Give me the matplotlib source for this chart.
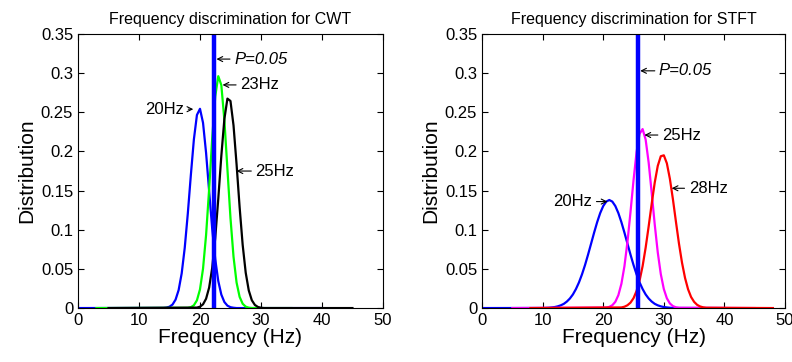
import numpy as np
import matplotlib
matplotlib.use("Agg")
import matplotlib.pyplot as plt
from matplotlib.ticker import FuncFormatter

# --- data ---------------------------------------------------------------
# CWT panel
cwt_20_x = [0.0] + list(np.arange(14.0, 26.25, 0.5)) + [40.0]
cwt_20_y = [0.0,
            0.0002, 0.0006, 0.0017, 0.0045, 0.0108, 0.0230, 0.0443, 0.0769,
            0.1203, 0.1696, 0.2154, 0.2466, 0.2545, 0.2366, 0.1982, 0.1497,
            0.1018, 0.0625, 0.0345, 0.0172, 0.0077, 0.0031, 0.0011, 0.0004,
            0.0,
            0.0]
cwt_23_x = [3.0] + list(np.arange(18.0, 28.75, 0.5)) + [35.0]
cwt_23_y = [0.0,
            0.0003, 0.0011, 0.0036, 0.0099, 0.0238, 0.0503, 0.0933, 0.1517,
            0.2162, 0.2702, 0.2962, 0.2848, 0.2401, 0.1775, 0.1151, 0.0655,
            0.0326, 0.0143, 0.0055, 0.0018, 0.0005, 0.0,
            0.0]
cwt_25_x = [5.0] + list(np.arange(19.5, 30.75, 0.5)) + [45.0]
cwt_25_y = [0.0,
            0.0006, 0.0017, 0.0048, 0.0119, 0.0261, 0.0511, 0.0895, 0.1396,
            0.1943, 0.2414, 0.2675, 0.2645, 0.2333, 0.1836, 0.1289, 0.0807,
            0.0451, 0.0225, 0.0100, 0.0040, 0.0014, 0.0004, 0.0,
            0.0]
cwt_p05 = 22.3

# STFT panel
stft_20_x = [0.0] + list(np.arange(10.0, 32.25, 0.5)) + [40.0]
stft_20_y = [0.0,
             0.0001, 0.0002, 0.0004, 0.0008, 0.0013, 0.0022, 0.0035, 0.0054,
             0.0083, 0.0122, 0.0174, 0.0243, 0.0328, 0.0431, 0.0550, 0.0683,
             0.0823, 0.0964, 0.1097, 0.1213, 0.1303, 0.1360, 0.1380, 0.1360,
             0.1303, 0.1213, 0.1097, 0.0964, 0.0823, 0.0683, 0.0550, 0.0431,
             0.0328, 0.0243, 0.0174, 0.0122, 0.0083, 0.0054, 0.0035, 0.0022,
             0.0013, 0.0008, 0.0004, 0.0002, 0.0001,
             0.0]
stft_25_x = [5.0] + list(np.arange(20.5, 32.75, 0.5)) + [45.0]
stft_25_y = [0.0,
             0.0006, 0.0015, 0.0036, 0.0080, 0.0165, 0.0310, 0.0534, 0.0845,
             0.1226, 0.1631, 0.1990, 0.2227, 0.2286, 0.2152, 0.1857, 0.1471,
             0.1068, 0.0711, 0.0434, 0.0243, 0.0125, 0.0059, 0.0025, 0.0010,
             0.0004,
             0.0]
stft_28_x = [8.0] + list(np.arange(23.0, 37.25, 0.5)) + [48.0]
stft_28_y = [0.0,
             0.0008, 0.0017, 0.0036, 0.0069, 0.0126, 0.0217, 0.0352, 0.0536,
             0.0771, 0.1044, 0.1333, 0.1603, 0.1816, 0.1939, 0.1951, 0.1849,
             0.1651, 0.1390, 0.1102, 0.0823, 0.0580, 0.0385, 0.0240, 0.0141,
             0.0079, 0.0041, 0.0020, 0.0009, 0.0004,
             0.0]
stft_p05 = 25.8

x_ticks = [0, 10, 20, 30, 40, 50]
y_ticks = [0, 0.05, 0.1, 0.15, 0.2, 0.25, 0.3, 0.35]

plt.rcParams["font.family"] = ["Liberation Sans", "DejaVu Sans"]
plt.rcParams.update({
    "xtick.direction": "in", "ytick.direction": "in",
    "xtick.top": True, "ytick.right": True,
    "xtick.major.size": 4, "ytick.major.size": 4,
    "xtick.labelsize": 12, "ytick.labelsize": 12,
    "axes.linewidth": 0.8,
})

fig = plt.figure(figsize=(7.92, 3.62), dpi=100)
ax1 = fig.add_axes([0.0985, 0.149, 0.385, 0.757])
ax2 = fig.add_axes([0.6086, 0.149, 0.3826, 0.757])


def panel(ax, curves, p05, title, notes):
    for x, y, c in curves:
        ax.plot(x, y, color=c, lw=1.6)
    ax.axvline(p05, color="#0000ff", lw=3.2)
    ax.set_xlim(0, 50)
    ax.set_ylim(0, 0.35)
    ax.set_xticks(x_ticks)
    ax.set_yticks(y_ticks)
    ax.yaxis.set_major_formatter(FuncFormatter(lambda v, p: "%g" % v))
    ax.set_title(title, fontsize=11.5, pad=7)
    ax.set_xlabel("Frequency (Hz)", fontsize=15, labelpad=0)
    ax.set_ylabel("Distribution", fontsize=15, labelpad=3)
    for txt, tip, pos, ha, style in notes:
        ax.annotate(txt, xy=tip, xytext=pos, ha=ha, va="center",
                    fontsize=12, style=style,
                    arrowprops=dict(arrowstyle="->", lw=0.8, color="black",
                                    shrinkA=1, shrinkB=0, mutation_scale=9))


panel(ax1,
      [(cwt_20_x, cwt_20_y, "#0000ff"),
       (cwt_23_x, cwt_23_y, "#00ff00"),
       (cwt_25_x, cwt_25_y, "black")],
      cwt_p05, "Frequency discrimination for CWT",
      [("P=0.05", (22.7, 0.318), (25.6, 0.318), "left", "italic"),
       ("23Hz", (23.7, 0.285), (26.6, 0.285), "left", "normal"),
       ("25Hz", (26.0, 0.175), (29.1, 0.175), "left", "normal"),
       ("20Hz", (18.9, 0.254), (17.4, 0.254), "right", "normal")])

panel(ax2,
      [(stft_20_x, stft_20_y, "#0000ff"),
       (stft_25_x, stft_25_y, "#ff00ff"),
       (stft_28_x, stft_28_y, "#ff0000")],
      stft_p05, "Frequency discrimination for STFT",
      [("P=0.05", (26.1, 0.303), (29.2, 0.303), "left", "italic"),
       ("25Hz", (26.8, 0.221), (29.7, 0.221), "left", "normal"),
       ("28Hz", (31.3, 0.153), (34.1, 0.153), "left", "normal"),
       ("20Hz", (20.7, 0.136), (18.2, 0.136), "right", "normal")])

fig.savefig("out.png", dpi=100, facecolor="white")
